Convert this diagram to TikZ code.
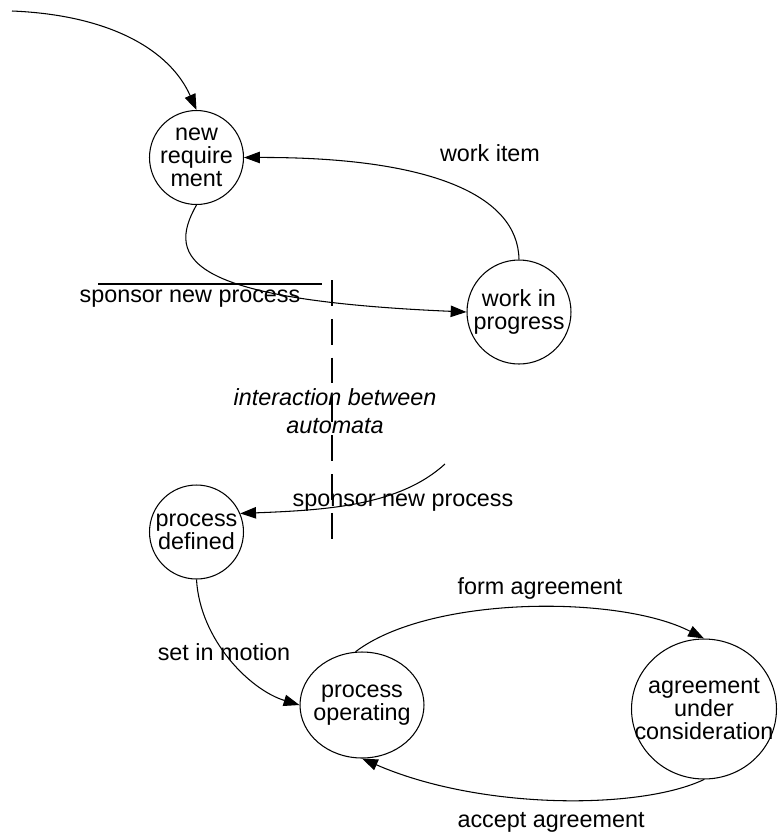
\documentclass[tikz,border=0pt]{standalone}
\usepackage{fontspec}
\setmainfont{Liberation Sans}
\usetikzlibrary{arrows.meta,shapes.geometric}

\tikzset{
  state/.style={draw,ellipse,inner sep=-12pt,align=center,line width=0.6pt},
  lbl/.style={inner sep=0pt,align=center}
}

\begin{document}
\begin{tikzpicture}[x=0.02cm,y=-0.02cm,>={Triangle[length=9pt,width=6.5pt]},
  font=\fontsize{13.3pt}{13pt}\selectfont,line width=0.6pt]
\useasboundingbox (0,0) rectangle (780,840);
\node[state,minimum width=1.88cm,minimum height=1.88cm] (newreq) at (196.5,157.5) {new\\require\\ment};
\node[state,minimum width=2.08cm,minimum height=2.08cm] (wip) at (519,312) {work in\\progress};
\node[state,minimum width=1.88cm,minimum height=1.88cm] (procdef) at (196.5,532) {process\\defined};
\node[state,minimum width=2.48cm,minimum height=2.12cm] (procop) at (362,705) {process\\operating};
\node[state,minimum width=2.9cm,minimum height=2.8cm] (agree) at (704,709) {agreement\\under\\consideration};
\coordinate (start) at (12,11);
\coordinate (other) at (445,464);
\draw[->] (start) .. controls (110,15) and (170,50) .. (newreq.north);
\draw[->] (wip.north) .. controls (518,195) and (430,157) .. (newreq.east);
\draw[->] (newreq.south) .. controls (165,260) and (190,300) .. (wip.west);
\draw[->] (other) .. controls (400,505) and (330,510) .. (procdef.23);
\draw[->] (procdef.south) .. controls (200,640) and (250,690) .. (procop.west);
\draw[->] (procop.97) .. controls (430,595) and (620,595) .. (agree.north);
\draw[->] (agree.south) .. controls (640,810) and (480,810) .. (procop.south);
\draw[line width=1.4pt] (98,284) -- (322,284);
\draw[line width=1.7pt,dash pattern=on 14.7pt off 7.4pt] (332,280) -- (332,540);
\node[lbl] (workitem) at (490,153) {work item};
\node[lbl] (sponsor1) at (190,299) {sponsor new process};
\node[lbl] (sponsor2) at (403,503) {sponsor new process};
\node[lbl,font=\fontsize{13.3pt}{13pt}\selectfont\itshape] (inter) at (335,411) {interaction between\\[2.8pt]automata};
\node[lbl] (motion) at (224,652) {set in motion};
\node[lbl,anchor=west] (form) at (457,588) {form agreement};
\node[lbl,anchor=west] (accept) at (457,822) {accept agreement};
\end{tikzpicture}
\end{document}
